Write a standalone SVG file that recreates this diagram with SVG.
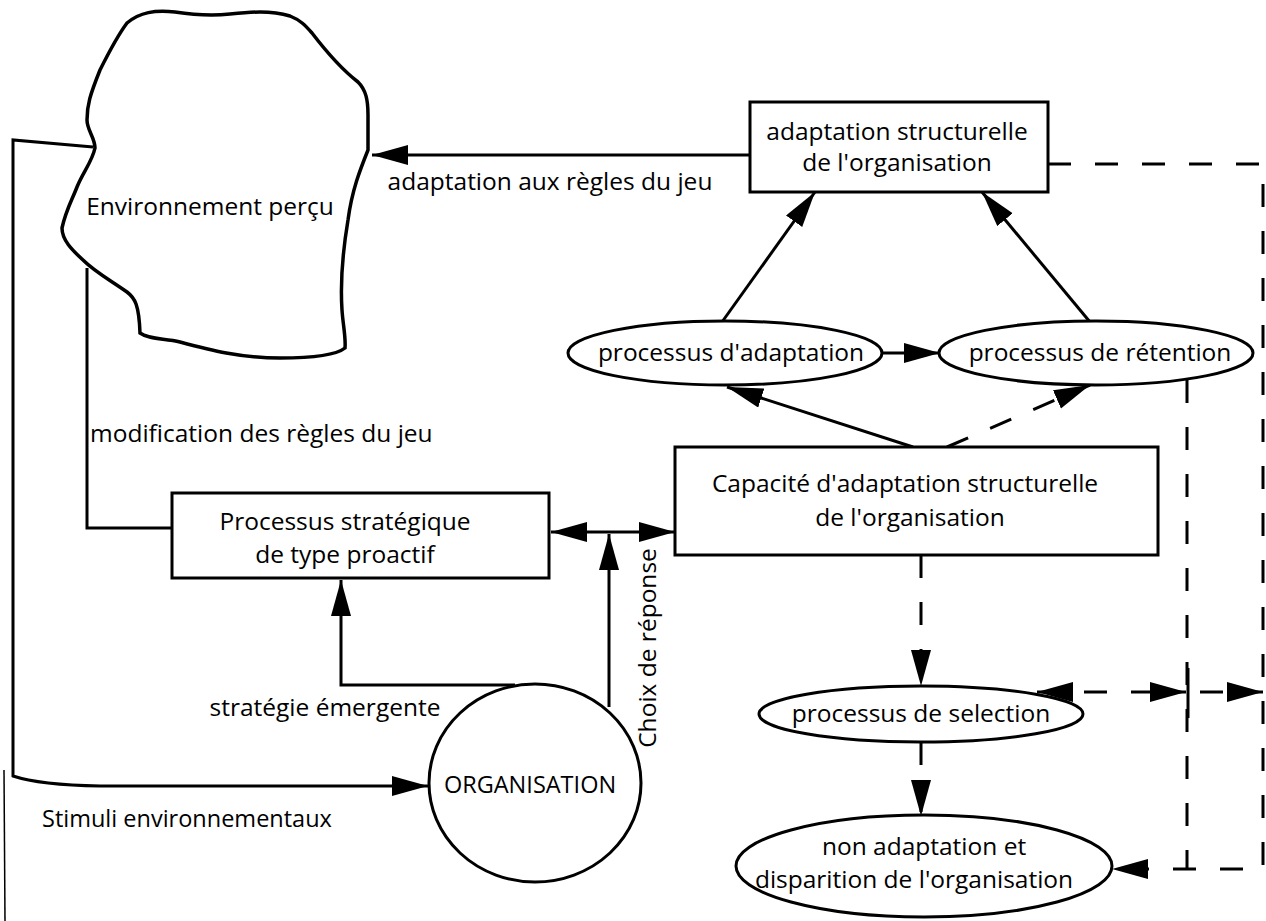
<svg xmlns="http://www.w3.org/2000/svg" width="1266" height="921" viewBox="0 0 1266 921">
  <style>
    .ln { fill: none; stroke: #000; stroke-width: 3; }
    .dash { fill: none; stroke: #000; stroke-width: 3; stroke-dasharray: 23 24; }
    .box { fill: #fff; stroke: #000; stroke-width: 3; }
    .t { font-family: "Open Sans", Lato, sans-serif; font-size: 24.5px; fill: #000; }
    .c { text-anchor: middle; }
  </style>
  <defs>
    <marker id="arr" markerUnits="userSpaceOnUse" markerWidth="38" markerHeight="22" refX="36" refY="10" orient="auto-start-reverse">
      <path d="M0,0 L36,10 L0,20 Z" fill="#000"/>
    </marker>
  </defs>

  <!-- connectors -->
  <g id="connectors">
    <!-- stimuli loop from the environment to the organisation -->
    <path class="ln" d="M93,147 L13,140 L13,776 Q40,785 100,786 L428,786" marker-end="url(#arr)"/>
    <!-- rules of the game modified by the strategic process -->
    <path class="ln" d="M87,268 L87,528 L172,528"/>
    <!-- structural adaptation back to the environment -->
    <path class="ln" d="M750,155 L372,155" marker-end="url(#arr)"/>
    <!-- emergent strategy -->
    <path class="ln" d="M515,685 L341,685 L341,580" marker-end="url(#arr)"/>
    <!-- response choice -->
    <path class="ln" d="M551,532 L675,532" marker-start="url(#arr)" marker-end="url(#arr)"/>
    <path class="ln" d="M609,707 L609,534" marker-end="url(#arr)"/>
    <!-- capacity to adaptation / retention -->
    <path class="ln" d="M913,447 L727,387" marker-end="url(#arr)"/>
    <path class="dash" d="M947,447 L1090,385" marker-end="url(#arr)"/>
    <path class="ln" d="M882,353 L940,353" marker-end="url(#arr)"/>
    <path class="ln" d="M722,322 L815,192" marker-end="url(#arr)"/>
    <path class="ln" d="M1090,322 L982,192" marker-end="url(#arr)"/>
    <!-- selection branch -->
    <path class="dash" d="M921,555 L921,686" marker-end="url(#arr)"/>
    <path class="dash" d="M921,742 L921,816" marker-end="url(#arr)"/>
    <path class="dash" d="M1037,692 L1186,692" marker-start="url(#arr)" marker-end="url(#arr)"/>
    <path class="ln" d="M1188,668 L1188,718"/>
    <path class="dash" d="M1200,692 L1263,692" marker-end="url(#arr)"/>
    <!-- feedback loops to disappearance -->
    <path class="dash" d="M1048,164 L1263,164 L1263,869 L1112,869" marker-end="url(#arr)"/>
    <path class="dash" d="M1187,380 L1187,869"/>
    <!-- thin edge line -->
    <path d="M4,770 L5,921" fill="none" stroke="#000" stroke-width="1.5"/>
  </g>

  <g id="environnement">
    <path class="ln" style="stroke-width:3.5" d="M127,23 C140,12 155,10 175,12 C195,15 210,16 230,14 C250,12 270,10 290,16 C300,20 305,25 312,33 C325,50 340,68 358,82 C366,90 368,100 368,115 L368,150 C360,170 352,190 348,220 C343,250 340,280 342,310 C343,325 346,338 345,348 C335,356 310,358 280,358 C240,358 210,350 180,342 C165,338 150,340 140,333 C139,305 135,298 127,292 C110,280 95,272 83,260 C72,250 62,240 62,228 C66,210 72,200 77,187 C83,172 92,162 95,148 C95,138 87,130 87,120 C87,105 90,95 100,70 C110,50 118,35 127,23 Z"/>
    <text class="t c" x="210" y="215">Environnement perçu</text>
  </g>

  <g id="adaptation-structurelle">
    <rect class="box" x="750" y="102" width="298" height="90"/>
    <text class="t c" x="897" y="140">adaptation structurelle</text>
    <text class="t c" x="897" y="171">de l'organisation</text>
  </g>

  <text class="t c" x="550" y="190">adaptation aux règles du jeu</text>
  <text class="t" x="90" y="442">modification des règles du jeu</text>

  <g id="processus-strategique">
    <rect class="box" x="172" y="493" width="377" height="85"/>
    <text class="t c" x="345" y="530">Processus stratégique</text>
    <text class="t c" x="345" y="563">de type proactif</text>
  </g>

  <g id="capacite">
    <rect class="box" x="675" y="447" width="483" height="108"/>
    <text class="t c" x="905" y="492">Capacité d'adaptation structurelle</text>
    <text class="t c" x="910" y="526">de l'organisation</text>
  </g>

  <g id="processus-adaptation">
    <ellipse class="box" cx="725" cy="353" rx="157" ry="32"/>
    <text class="t c" x="731" y="361">processus d'adaptation</text>
  </g>

  <g id="processus-retention">
    <ellipse class="box" cx="1096" cy="353" rx="157" ry="32"/>
    <text class="t c" x="1100" y="361">processus de rétention</text>
  </g>

  <g id="processus-selection">
    <ellipse class="box" cx="921" cy="714" rx="162" ry="28"/>
    <text class="t c" x="921" y="722">processus de selection</text>
  </g>

  <g id="non-adaptation">
    <ellipse class="box" cx="924" cy="866" rx="188" ry="51"/>
    <text class="t c" x="924" y="855">non adaptation et</text>
    <text class="t c" x="914" y="888">disparition de l'organisation</text>
  </g>

  <g id="organisation">
    <ellipse class="box" cx="535" cy="783" rx="106" ry="99"/>
    <text class="t c" style="font-size:23.5px" x="530" y="793">ORGANISATION</text>
  </g>

  <text class="t c" x="325" y="716">stratégie émergente</text>
  <text class="t" x="42" y="827" style="font-size:23.5px">Stimuli environnementaux</text>
  <text class="t c" transform="translate(656,648) rotate(-90)">Choix de réponse</text>
</svg>
